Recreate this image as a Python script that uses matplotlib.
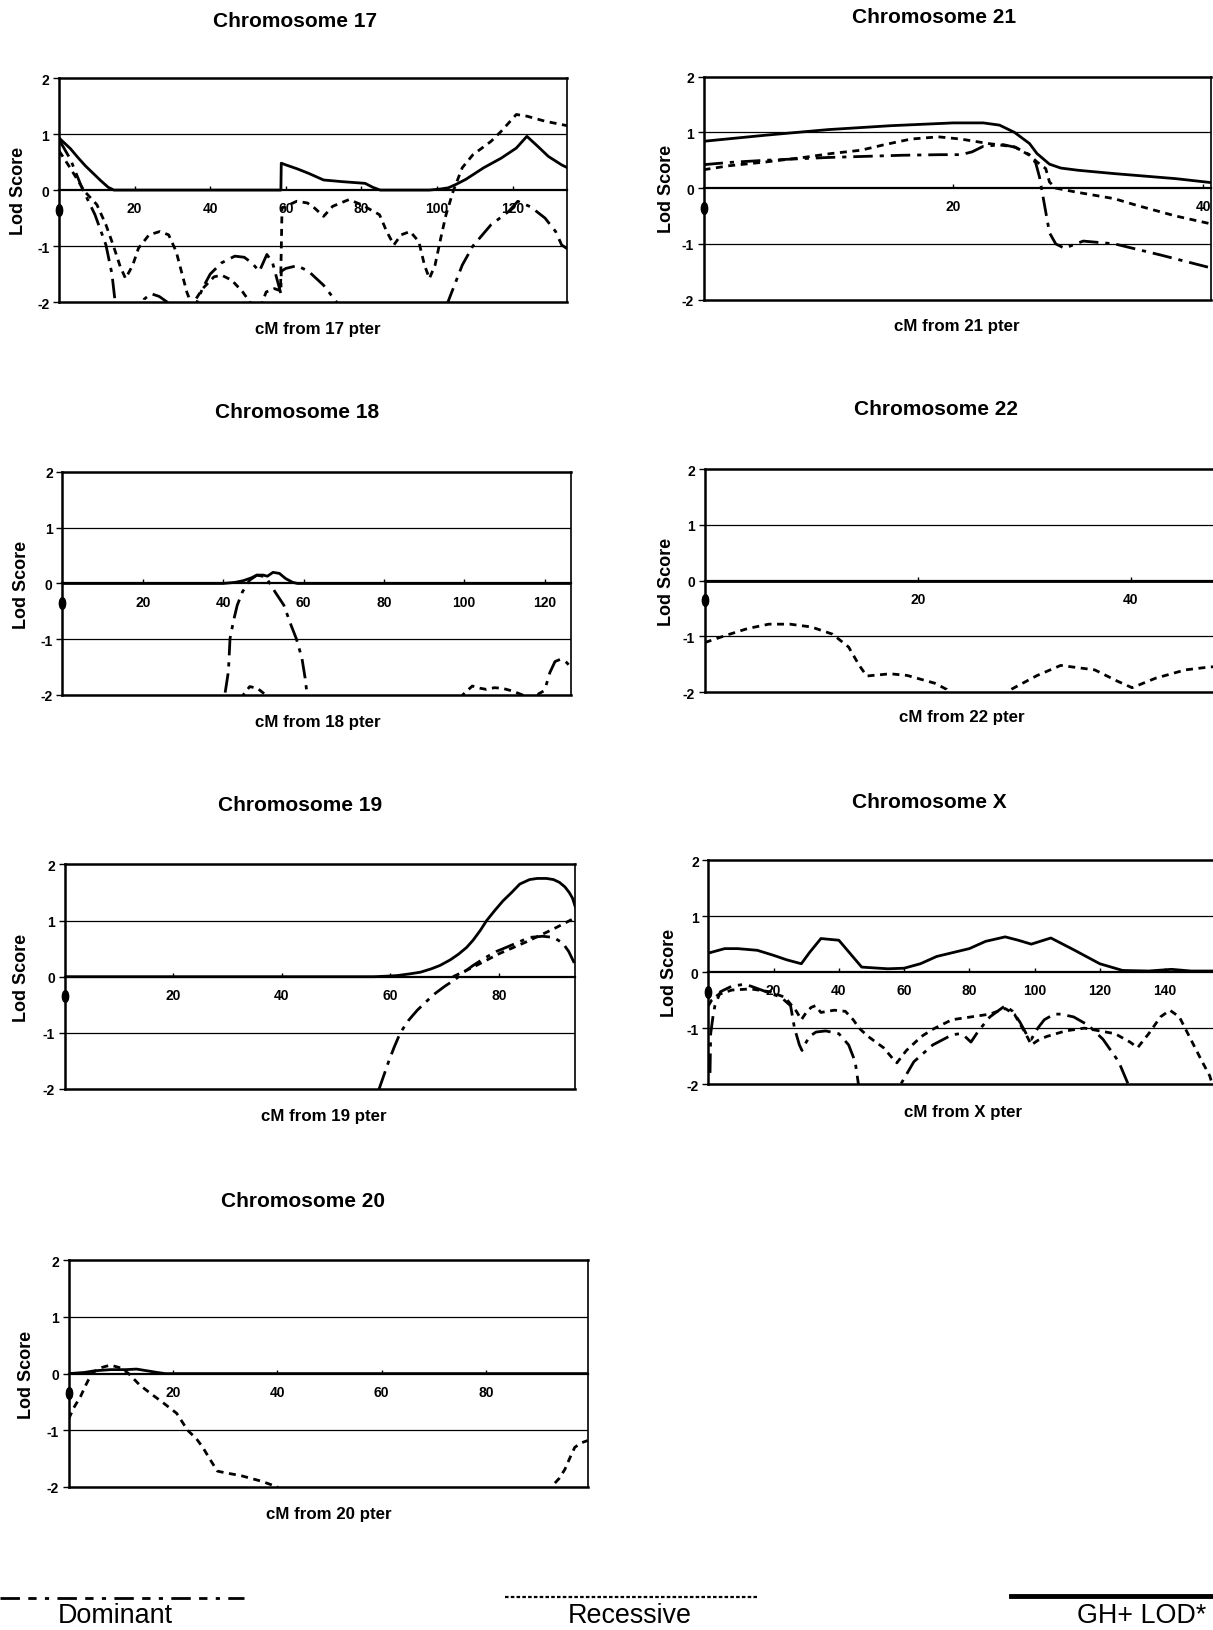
import numpy as np
import matplotlib
matplotlib.use('Agg')
import matplotlib.pyplot as plt
from matplotlib.lines import Line2D
from matplotlib.markers import MarkerStyle
from matplotlib.transforms import Affine2D

plt.rcParams['font.family'] = ['Liberation Sans', 'DejaVu Sans']

# ---------------- data (cM, LOD) ----------------
# Chromosome 17
c17_gh_x = [0, 3, 5, 7, 9, 11, 13, 14.5, 30, 58.7, 58.8, 60, 63, 66, 70, 75, 81, 83, 85, 98, 101, 103, 105, 107.6, 112.4, 117, 121, 123.8, 126.7, 129.5, 133, 134.5]
c17_gh_y = [0.93, 0.74, 0.58, 0.43, 0.3, 0.17, 0.05, 0.0, 0, 0, 0.48, 0.45, 0.38, 0.3, 0.18, 0.15, 0.12, 0.05, 0, 0, 0.02, 0.04, 0.1, 0.19, 0.4, 0.57, 0.75, 0.96, 0.78, 0.6, 0.45, 0.4]
c17_dom_x = [0, 3, 6, 9.5, 12.4, 14, 15, 16, 21, 22.5, 24.3, 26.5, 28.6, 30, 35, 36.5, 38, 40, 43, 46.5, 49, 51, 53, 55, 56.5, 58.7, 58.8, 60, 63, 66, 70, 74, 76, 101, 102.9, 106.7, 109.5, 114.3, 119, 121.4, 124.8, 128.6, 131.4, 133, 134.5]
c17_dom_y = [0.9, 0.55, 0.05, -0.44, -0.98, -1.5, -2.1, -2.5, -2.5, -1.95, -1.85, -1.9, -2.0, -2.5, -2.5, -2.0, -1.75, -1.5, -1.3, -1.18, -1.2, -1.3, -1.45, -1.15, -1.3, -1.85, -1.45, -1.4, -1.35, -1.45, -1.7, -2.05, -2.5, -2.5, -2.0, -1.34, -1.0, -0.62, -0.38, -0.2, -0.3, -0.5, -0.74, -0.98, -1.05]
c17_rec_x = [0, 2.9, 6.7, 10, 12.4, 14.3, 16.2, 17.6, 19.5, 21, 23.8, 26.7, 29, 31, 32.4, 33.8, 34.8, 35.3, 35.7, 38, 41, 43, 45.7, 48.6, 50.5, 51, 53.5, 53.8, 54.8, 57, 58.6, 59, 62.9, 65.7, 67.6, 70, 72.4, 76.7, 80, 84.8, 86.7, 88.6, 90.5, 92.9, 95.2, 96.7, 98, 99.5, 101, 102.4, 104.3, 106.7, 109.5, 114.3, 117, 121, 123.8, 128.6, 133, 134.5]
c17_rec_y = [0.7, 0.4, -0.02, -0.26, -0.62, -0.98, -1.37, -1.58, -1.34, -1.04, -0.8, -0.74, -0.8, -1.1, -1.46, -1.82, -2.0, -2.3, -2.0, -1.76, -1.55, -1.52, -1.61, -1.82, -2.0, -2.3, -2.3, -2.0, -1.82, -1.76, -1.8, -0.32, -0.2, -0.23, -0.32, -0.47, -0.29, -0.17, -0.26, -0.44, -0.74, -0.98, -0.8, -0.74, -0.92, -1.34, -1.58, -1.34, -0.86, -0.44, -0.02, 0.4, 0.63, 0.87, 1.05, 1.35, 1.32, 1.23, 1.17, 1.15]

# Chromosome 18
c18_gh_x = [0, 40, 43, 45, 47, 48.4, 50, 51, 52.4, 54, 55.5, 57.3, 58.5, 126.5]
c18_gh_y = [0, 0, 0.02, 0.05, 0.1, 0.15, 0.15, 0.13, 0.2, 0.18, 0.09, 0.02, 0, 0]
c18_dom_x = [0, 39, 40.4, 41.3, 41.7, 42.6, 43.5, 44.8, 46.6, 48.4, 50.6, 52.9, 55.1, 56.9, 58.2, 59.6, 60.4, 60.9, 61.5, 116, 118.5, 120, 121.3, 122.6, 124.3, 125.5, 126.5]
c18_dom_y = [-2.5, -2.5, -2.0, -1.58, -0.99, -0.66, -0.39, -0.15, 0.06, 0.15, 0.12, -0.15, -0.39, -0.75, -0.99, -1.34, -1.7, -2.0, -2.5, -2.5, -1.98, -1.92, -1.6, -1.4, -1.35, -1.42, -1.5]
c18_rec_x = [0, 44, 45, 46.6, 48.5, 50.6, 51.5, 98.5, 99.6, 102, 104, 105.5, 107.5, 109.5, 112, 114.5, 116, 126.5]
c18_rec_y = [-2.5, -2.5, -2.0, -1.85, -1.88, -2.0, -2.5, -2.5, -2.0, -1.84, -1.88, -1.9, -1.87, -1.88, -1.93, -2.0, -2.5, -2.5]

# Chromosome 19
c19_gh_x = [0, 57, 59.4, 61.2, 63.5, 65.5, 67.5, 69.1, 71, 72.5, 74, 75.2, 76.5, 77.7, 79.2, 80.7, 82.3, 83.8, 85.6, 87, 88.7, 90, 91.1, 92.1, 92.9, 93.5, 94]
c19_gh_y = [0, 0, 0.01, 0.02, 0.05, 0.08, 0.14, 0.2, 0.3, 0.4, 0.52, 0.65, 0.82, 1.0, 1.18, 1.35, 1.5, 1.65, 1.73, 1.75, 1.75, 1.73, 1.68, 1.6, 1.5, 1.4, 1.25]
c19_dom_x = [0, 57, 57.9, 58.8, 59.7, 60.7, 61.8, 63.3, 64.9, 66.5, 68.2, 70, 71.9, 73.5, 75.2, 77.3, 79.5, 81.5, 83.2, 85.6, 88, 90, 91.7, 92.8, 93.8, 94]
c19_dom_y = [-2.5, -2.5, -2.0, -1.75, -1.5, -1.25, -1.0, -0.78, -0.6, -0.45, -0.3, -0.17, -0.05, 0.08, 0.2, 0.33, 0.45, 0.53, 0.6, 0.7, 0.72, 0.7, 0.6, 0.45, 0.25, 0.2]
c19_rec_x = [71.5, 75, 80, 85, 90, 94]
c19_rec_y = [0.0, 0.16, 0.41, 0.62, 0.85, 1.05]

# Chromosome 20
c20_gh_x = [0, 3, 5, 8, 11, 13, 15, 17, 18.5, 99.5]
c20_gh_y = [0, 0.02, 0.05, 0.07, 0.07, 0.08, 0.05, 0.02, 0, 0]
c20_rec_x = [0, 1, 2.3, 3.3, 4.4, 6, 8, 10, 11.5, 13.6, 15.7, 17.9, 20.7, 22.8, 24.5, 25.7, 27, 28.5, 30, 33, 37, 40, 42, 91, 92.5, 94, 95.1, 96, 97, 98.3, 99.5]
c20_rec_y = [-0.8, -0.6, -0.4, -0.2, 0.0, 0.1, 0.15, 0.1, 0.0, -0.2, -0.35, -0.5, -0.7, -1.0, -1.15, -1.3, -1.5, -1.72, -1.75, -1.8, -1.9, -2.0, -2.3, -2.3, -2.0, -1.85, -1.69, -1.5, -1.3, -1.22, -1.18]

# Chromosome 21
c21_gh_x = [0, 5, 10, 15, 20, 22.4, 23.7, 24.9, 26.1, 26.7, 27.7, 28.6, 30, 32.9, 37.8, 40.6]
c21_gh_y = [0.84, 0.95, 1.05, 1.12, 1.17, 1.17, 1.13, 1.0, 0.8, 0.62, 0.43, 0.36, 0.32, 0.26, 0.17, 0.1]
c21_dom_x = [0, 2, 5, 8, 10, 13, 16, 19, 20.6, 21.5, 22.4, 24, 25, 26.1, 26.6, 26.9, 27.3, 27.7, 28.2, 28.9, 30.4, 32.9, 36.6, 40.6]
c21_dom_y = [0.42, 0.46, 0.5, 0.53, 0.55, 0.57, 0.59, 0.6, 0.6, 0.65, 0.75, 0.78, 0.73, 0.6, 0.45, 0.2, -0.3, -0.8, -1.0, -1.08, -0.95, -1.0, -1.2, -1.43]
c21_rec_x = [0, 2, 5, 8, 10.2, 12.6, 14.5, 16.6, 18.8, 20.6, 22.8, 24.9, 26.1, 26.7, 27.4, 27.7, 28.2, 29.8, 32.9, 34.7, 37.8, 40.6]
c21_rec_y = [0.33, 0.4, 0.47, 0.55, 0.62, 0.68, 0.78, 0.88, 0.92, 0.88, 0.8, 0.74, 0.59, 0.47, 0.35, 0.11, 0.0, -0.07, -0.19, -0.31, -0.5, -0.64]

# Chromosome 22
c22_gh_x = [0, 48.8]
c22_gh_y = [0, 0]
c22_rec_x = [0, 2, 4, 6, 8, 10, 12, 13.5, 14.5, 15.2, 17.4, 19, 21.6, 22.7, 23.5, 28, 28.75, 31.2, 33.4, 36.6, 38.7, 40.1, 42.3, 45.1, 47.3, 48.8]
c22_rec_y = [-1.11, -0.98, -0.86, -0.78, -0.78, -0.83, -0.96, -1.19, -1.52, -1.71, -1.67, -1.7, -1.84, -1.95, -2.2, -2.2, -1.95, -1.7, -1.52, -1.6, -1.8, -1.92, -1.75, -1.6, -1.55, -1.53]

# Chromosome X
cX_gh_x = [0, 5, 9, 15, 20, 24, 28.5, 31, 34.5, 40, 43.5, 47, 55, 60, 65, 70, 75, 80, 85, 91, 95, 99, 105, 112, 120, 127, 135, 142, 148, 158.4]
cX_gh_y = [0.34, 0.42, 0.42, 0.39, 0.3, 0.22, 0.15, 0.35, 0.6, 0.57, 0.33, 0.09, 0.06, 0.07, 0.15, 0.28, 0.35, 0.42, 0.55, 0.63, 0.57, 0.5, 0.61, 0.4, 0.15, 0.03, 0.02, 0.05, 0.02, 0.02]
cX_dom_x = [0.5, 0.7, 1.5, 2, 3.7, 7.2, 10.7, 13, 17.7, 22.3, 25.2, 26.4, 27.9, 28.7, 29.5, 31, 33, 36, 40, 43, 45, 46, 47, 58, 59, 63, 68.8, 74.7, 77, 78.7, 80.5, 82.8, 86.3, 89.8, 91, 93.3, 95.6, 97.9, 99, 101, 103, 106, 108, 112, 116.5, 121, 125.8, 128.7, 130, 158.4]
cX_dom_y = [-1.8, -1.1, -0.75, -0.6, -0.35, -0.25, -0.22, -0.25, -0.35, -0.45, -0.6, -1.0, -1.3, -1.4, -1.3, -1.15, -1.07, -1.05, -1.1, -1.3, -1.6, -2.0, -2.5, -2.5, -2.0, -1.6, -1.3, -1.12, -1.1, -1.15, -1.25, -1.05, -0.8, -0.65, -0.6, -0.7, -0.9, -1.15, -1.2, -1.0, -0.85, -0.75, -0.75, -0.8, -0.95, -1.2, -1.6, -2.0, -2.5, -2.5]
cX_rec_x = [0, 1, 3.1, 7.2, 13, 18.8, 23.5, 27, 28.5, 30, 31.5, 32.8, 34.5, 38.6, 42, 44.4, 46.2, 49, 53.7, 56.6, 57.8, 60.7, 65.3, 68.8, 71.2, 74.7, 80.5, 86.3, 91, 93.8, 97.3, 99, 101, 103.7, 109.5, 115.3, 120, 124.7, 129.3, 131.6, 135, 138.6, 141.5, 144.4, 147.9, 151.4, 153.7, 155, 158.4]
cX_rec_y = [-0.6, -0.5, -0.4, -0.32, -0.3, -0.35, -0.45, -0.7, -0.85, -0.72, -0.63, -0.6, -0.72, -0.68, -0.7, -0.85, -1.0, -1.15, -1.35, -1.55, -1.62, -1.4, -1.15, -1.02, -0.95, -0.85, -0.8, -0.75, -0.65, -0.75, -1.1, -1.3, -1.22, -1.15, -1.05, -1.0, -1.05, -1.1, -1.25, -1.35, -1.1, -0.8, -0.68, -0.8, -1.2, -1.6, -1.85, -2.1, -2.5]

y_ticks = [-2, -1, 0, 1, 2]
y_tick_labels = ['-2', '-1', '0', '1', '2']
legend_labels = ['Dominant', 'Recessive', 'GH+ LOD*']

# ---------------- styles ----------------
DOM = dict(color='black', lw=2.0, dashes=(7, 2.5, 1.5, 2.5))
REC = dict(color='black', lw=2.0, dashes=(2.5, 2.0))
GH = dict(color='black', lw=2.0)

fig = plt.figure(figsize=(12.13, 16.31), dpi=100)
fig.patch.set_facecolor('white')

dot_marker = MarkerStyle('o', transform=Affine2D().scale(0.65, 1.2))


def panel(rect, xmax, ticks, title, title_xy, xlabel, xlabel_xy, ylab_x, series):
    ax = fig.add_axes(rect)
    ax.set_xlim(0, xmax)
    ax.set_ylim(-2, 2)
    for yv, lw in [(1, 0.9), (-1, 0.9)]:
        ax.axhline(yv, color='black', lw=lw, zorder=1)
    ax.axhline(-2, color='black', lw=1.8, zorder=1, clip_on=False)
    for x, y, st in series:
        ax.plot(x, y, zorder=3, **st)
    ax.spines['bottom'].set_position(('data', 0))
    ax.spines['bottom'].set_linewidth(1.6)
    ax.spines['top'].set_linewidth(1.8)
    ax.spines['right'].set_linewidth(1.2)
    ax.spines['left'].set_linewidth(1.8)
    ax.set_xticks(ticks)
    ax.set_xticklabels([str(t) for t in ticks], fontweight='bold', fontsize=10)
    ax.tick_params(axis='x', direction='in', length=3, pad=8, width=1)
    ax.set_yticks(y_ticks)
    ax.set_yticklabels(y_tick_labels, fontweight='bold', fontsize=10)
    ax.tick_params(axis='y', direction='out', length=4, pad=3, width=1)
    ax.plot([0], [-0.35], marker=dot_marker, ms=7, color='black', clip_on=False, zorder=5)
    ax.text(ylab_x, 0.5, 'Lod Score', rotation=90, ha='center', va='center',
            transform=ax.transAxes, fontsize=13, fontweight='bold')
    fig.text(title_xy[0], title_xy[1], title, ha='center', va='center', fontsize=15, fontweight='bold')
    fig.text(xlabel_xy[0], xlabel_xy[1], xlabel, ha='center', va='center', fontsize=12.2, fontweight='bold')
    return ax


panel([0.0487, 0.8142, 0.419, 0.1373], 134.5, [20, 40, 60, 80, 100, 120], 'Chromosome 17', (0.243, 0.987),
      'cM from 17 pter', (0.262, 0.798), -0.079,
      [(c17_dom_x, c17_dom_y, DOM), (c17_rec_x, c17_rec_y, REC), (c17_gh_x, c17_gh_y, GH)])
panel([0.0515, 0.5733, 0.419, 0.1367], 126.5, [20, 40, 60, 80, 100, 120], 'Chromosome 18', (0.245, 0.747),
      'cM from 18 pter', (0.262, 0.557), -0.081,
      [(c18_dom_x, c18_dom_y, DOM), (c18_rec_x, c18_rec_y, REC), (c18_gh_x, c18_gh_y, GH)])
panel([0.0532, 0.3317, 0.421, 0.1377], 94, [20, 40, 60, 80], 'Chromosome 19', (0.247, 0.506),
      'cM from 19 pter', (0.267, 0.3157), -0.085,
      [(c19_dom_x, c19_dom_y, DOM), (c19_rec_x, c19_rec_y, REC), (c19_gh_x, c19_gh_y, GH)])
panel([0.0566, 0.0877, 0.428, 0.139], 99.5, [20, 40, 60, 80], 'Chromosome 20', (0.250, 0.2636),
      'cM from 20 pter', (0.271, 0.0713), -0.081,
      [(c20_rec_x, c20_rec_y, REC), (c20_gh_x, c20_gh_y, GH)])
panel([0.580, 0.8157, 0.418, 0.1367], 40.6, [20, 40], 'Chromosome 21', (0.770, 0.989),
      'cM from 21 pter', (0.789, 0.800), -0.073,
      [(c21_dom_x, c21_dom_y, DOM), (c21_rec_x, c21_rec_y, REC), (c21_gh_x, c21_gh_y, GH)])
panel([0.581, 0.575, 0.4287, 0.1367], 48.8, [20, 40], 'Chromosome 22', (0.772, 0.749),
      'cM from 22 pter', (0.793, 0.560), -0.073,
      [(c22_rec_x, c22_rec_y, REC), (c22_gh_x, c22_gh_y, GH)])
panel([0.584, 0.3347, 0.4259, 0.1373], 158.4, [20, 40, 60, 80, 100, 120, 140], 'Chromosome X', (0.766, 0.508),
      'cM from X pter', (0.794, 0.318), -0.076,
      [(cX_dom_x, cX_dom_y, DOM), (cX_rec_x, cX_rec_y, REC), (cX_gh_x, cX_gh_y, GH)])

# ---------------- legend along the bottom ----------------
fig.add_artist(Line2D([0.0, 0.201], [0.0196, 0.0196], transform=fig.transFigure, color='black',
                      lw=2.0, dashes=(7, 3, 3, 3, 1.5, 3)))
fig.add_artist(Line2D([0.416, 0.624], [0.0202, 0.0202], transform=fig.transFigure, color='black',
                      lw=1.6, dashes=(1.6, 1.0)))
fig.add_artist(Line2D([0.8335, 1.0], [0.0208, 0.0208], transform=fig.transFigure, color='black', lw=3.5))
for lab, xc in zip(legend_labels, [0.0952, 0.519, 0.941]):
    fig.text(xc, 0.0094, lab, ha='center', va='center', fontsize=19.4)

fig.savefig('out.png', dpi=100, facecolor='white')
